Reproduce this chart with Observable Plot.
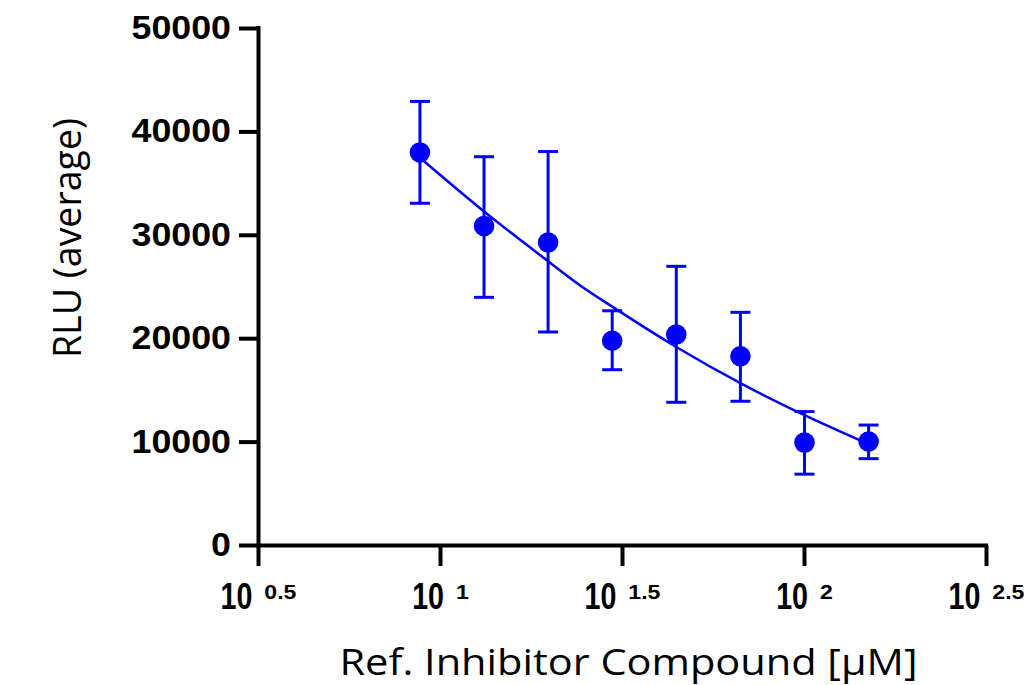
<!DOCTYPE html>
<html>
<head>
<meta charset="utf-8">
<script src="https://cdn.jsdelivr.net/npm/d3@7"></script>
<script src="https://cdn.jsdelivr.net/npm/@observablehq/plot@0.6"></script>
<style>
  html, body { margin: 0; padding: 0; background: #fff; }
  #chart svg { display: block; background: #fff; }
</style>
</head>
<body>
<div id="chart"></div>
<script>
// ---- Data ----
const concentration = [8.78, 13.17, 19.75, 29.63, 44.44, 66.67, 100, 150];  // µM
const rluMean = [38000, 30900, 29300, 19800, 20400, 18300, 9950, 10050];
const rluLow  = [33100, 24000, 20650, 17000, 13850, 13950, 6900, 8400];
const rluHigh = [42950, 37600, 38100, 22700, 27000, 22550, 12950, 11650];

// fitted curve
const fitConcentration = [8.78, 13.17, 19.75, 24.2, 29.63, 44.44, 66.67, 100, 150];
const fitRlu = [37500, 32300, 27500, 25150, 23100, 19200, 15700, 12600, 9800];

// axis ticks
const xTickExponents = ["0.5", "1", "1.5", "2", "2.5"];
const xTicks = xTickExponents.map(e => Math.pow(10, +e));
const yTicks = [0, 10000, 20000, 30000, 40000, 50000];

const xLabel = "Ref. Inhibitor Compound [µM]";
const yLabel = "RLU (average)";

// ---- tables built from the arrays ----
const points = concentration.map((c, i) => ({c, mean: rluMean[i], low: rluLow[i], high: rluHigh[i]}));
const fit = fitConcentration.map((c, i) => ({c, y: fitRlu[i]}));

const blue = "#0000ff";
const capSymbol = {
  draw(context, size) {
    const r = Math.sqrt(size / Math.PI);
    context.moveTo(-r, 0);
    context.lineTo(r, 0);
  }
};

const boldFont = "Liberation Sans, Arial, sans-serif";
const labelFont = "Open Sans, Noto Sans, sans-serif";

const chart = Plot.plot({
  width: 1030,
  height: 685,
  marginLeft: 258,
  marginRight: 44,
  marginTop: 28,
  marginBottom: 140,
  style: {background: "#fff", overflow: "visible"},
  x: {type: "log", domain: [xTicks[0], xTicks[xTicks.length - 1]]},
  y: {domain: [0, 50000]},
  marks: [
    // axes
    Plot.axisY(yTicks, {
      tickSize: 19, tickPadding: 8.5, strokeWidth: 4, stroke: "#000",
      fontSize: 32.5, fontWeight: "bold", fontFamily: boldFont, fill: "#000",
      tickFormat: d => String(d), label: null
    }),
    Plot.axisX(xTicks, {
      tickSize: 21, tickPadding: 16, strokeWidth: 4, stroke: "#000",
      fontSize: 37.7, fontWeight: "bold", fontFamily: boldFont, fill: "#000",
      tickFormat: d => "10^" + xTickExponents[xTicks.indexOf(d)], label: null
    }),
    Plot.ruleX([xTicks[0]], {stroke: "#000", strokeWidth: 4, strokeLinecap: "square"}),
    Plot.ruleY([0], {stroke: "#000", strokeWidth: 4, strokeLinecap: "square"}),
    // fitted curve
    Plot.line(fit, {x: "c", y: "y", stroke: blue, strokeWidth: 2.5, curve: "monotone-x"}),
    // error bars
    Plot.ruleX(points, {x: "c", y1: "low", y2: "high", stroke: blue, strokeWidth: 3}),
    Plot.dot(points, {x: "c", y: "high", symbol: capSymbol, r: 10, stroke: blue, strokeWidth: 3, fill: "none"}),
    Plot.dot(points, {x: "c", y: "low", symbol: capSymbol, r: 10, stroke: blue, strokeWidth: 3, fill: "none"}),
    // means
    Plot.dot(points, {x: "c", y: "mean", r: 10.3, fill: blue, stroke: "none"}),
    // axis titles
    Plot.text([yLabel], {
      frameAnchor: "left", rotate: -90, dx: -190, dy: -49,
      fontSize: 37.5, fontFamily: labelFont, fill: "#000", textAnchor: "middle", lineAnchor: "middle"
    }),
    Plot.text([xLabel], {
      frameAnchor: "bottom", dx: 6, dy: 118,
      fontSize: 37, fontFamily: labelFont, fill: "#000", textAnchor: "middle", lineAnchor: "middle"
    })
  ]
});

document.getElementById("chart").appendChild(chart);

// slight horizontal stretch of the reference's y tick labels
d3.select(chart).selectAll('g[aria-label="y-axis tick label"] text').each(function() {
  const t = d3.select(this);
  t.attr("transform", (t.attr("transform") || "") + " scale(1.1,1)");
});
// x title stretched to the reference's width
d3.select(chart).selectAll("text").filter(function() { return this.textContent === xLabel; })
  .attr("textLength", 578).attr("lengthAdjust", "spacingAndGlyphs");

// superscript exponents on the x tick labels
d3.select(chart).selectAll('g[aria-label="x-axis tick label"] text').each(function() {
  const t = d3.select(this);
  const parts = t.text().split("^");
  t.text(null);
  const base = t.append("tspan").text(parts[0]);
  const sup = t.append("tspan").attr("font-size", 21).attr("dx", 12).attr("dy", -10.7).text(parts[1]);
  const bl = base.node().getComputedTextLength();
  const sl = sup.node().getComputedTextLength();
  base.attr("textLength", bl * 0.76).attr("lengthAdjust", "spacingAndGlyphs");
  sup.attr("textLength", sl * 1.1).attr("lengthAdjust", "spacingAndGlyphs");
});
</script>
</body>
</html>
